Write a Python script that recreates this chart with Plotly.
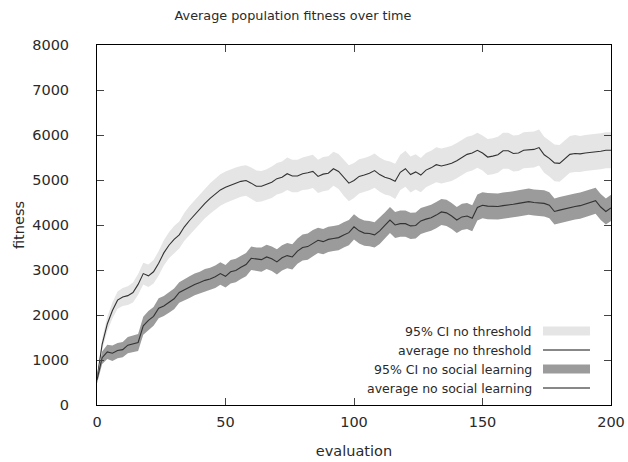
import plotly.graph_objects as go

evaluation = list(range(0, 201, 2))

avg_no_threshold = [
    580, 1350, 1800, 2100, 2330, 2400, 2430, 2500, 2680, 2920,
    2870, 2960, 3150, 3380, 3550, 3680, 3780, 3960, 4100, 4230,
    4360, 4480, 4590, 4690, 4780, 4840, 4890, 4930, 4970, 4990,
    4930, 4860, 4860, 4900, 4950, 5030, 5060, 5140, 5090, 5090,
    5140, 5160, 5190, 5080, 5130, 5150, 5250, 5190, 5050, 4930,
    4990, 5080, 5110, 5150, 5210, 5120, 5060, 5030, 4970, 5170,
    5250, 5120, 5180, 5110, 5220, 5270, 5340, 5310, 5340, 5370,
    5430, 5510, 5570, 5600, 5660, 5600, 5510, 5530, 5560, 5650,
    5650, 5590, 5600, 5660, 5670, 5680, 5720, 5560, 5480, 5380,
    5370, 5460, 5570, 5590, 5580, 5600, 5610, 5630, 5640, 5660,
    5660,
]

ci_no_threshold = [
    60, 130, 160, 180, 190, 200,
    210, 220, 230, 240, 250,
    260, 270, 280, 290, 300, 300, 310, 320, 320, 330,
    330, 340, 340, 350, 350, 350, 350, 340, 340, 350,
    350, 340, 340, 350, 350, 350, 360, 360, 360, 360,
    370, 370, 370, 380, 380, 380, 390, 400, 400, 390,
    380, 380, 380, 380, 380, 380, 380, 390, 390, 400,
    400, 390, 380, 380, 380, 390, 390, 390, 390, 390,
    390, 390, 390, 390, 390, 400, 400, 400, 400, 400,
    400, 400, 400, 400, 400, 400, 400, 400, 410, 410,
    410, 410, 410, 400, 400, 400, 400, 400, 400, 400,
]

avg_no_social = [
    560, 1050, 1180, 1150, 1210, 1230, 1330, 1360, 1390, 1760,
    1880, 1970, 2150, 2200, 2280, 2360, 2500, 2560, 2620, 2680,
    2720, 2770, 2800, 2850, 2920, 2860, 2960, 2990, 3060, 3120,
    3260, 3240, 3230, 3290, 3250, 3180, 3270, 3320, 3290, 3420,
    3500, 3520, 3600, 3660, 3630, 3680, 3700, 3720, 3780, 3830,
    3960, 3870, 3820, 3810, 3780, 3870, 3990, 4110, 4000, 4030,
    4030, 3980, 3990, 4090, 4130, 4160, 4220, 4290, 4270, 4200,
    4110, 4180, 4200, 4150, 4390, 4440, 4420, 4410, 4410, 4430,
    4440, 4460, 4480, 4500, 4520, 4500, 4490, 4480, 4440, 4300,
    4330, 4360, 4380, 4410, 4430, 4470, 4500, 4540, 4400, 4300,
    4380,
]

ci_no_social = [
    80, 140, 160, 170, 170, 170,
    180, 180, 190, 200, 210,
    210, 220, 220, 230, 230, 230, 240, 240, 240, 240,
    250, 250, 250, 250, 250, 260, 260, 260, 260, 260,
    260, 270, 270, 270, 280, 280, 280, 280, 280, 290,
    290, 290, 280, 280, 280, 280, 280, 280, 280, 280,
    280, 280, 280, 280, 290, 290, 290, 290, 290, 290,
    290, 290, 290, 290, 290, 290, 290, 290, 290, 290,
    290, 290, 290, 290, 290, 290, 290, 290, 290, 290,
    290, 290, 290, 290, 290, 290, 290, 290, 290, 290,
    290, 290, 290, 290, 290, 290, 290, 290, 290, 290,
]

legend_labels = ["95% CI no threshold", "average no threshold",
                 "95% CI no social learning", "average no social learning"]

x_ticks = [0, 50, 100, 150, 200]
y_ticks = [0, 1000, 2000, 3000, 4000, 5000, 6000, 7000, 8000]

LIGHT = "#e5e5e5"
DARK = "#9b9b9b"
LINE = "#333333"
TXT = "#2a2a2a"
FONT = "DejaVu Sans"

fig = go.Figure()


def add_band(mean, half, color):
    lo = [m - h for m, h in zip(mean, half)]
    hi = [m + h for m, h in zip(mean, half)]
    fig.add_trace(go.Scatter(x=evaluation, y=lo, mode="lines", line=dict(width=0, color=color),
                             showlegend=False, hoverinfo="skip"))
    fig.add_trace(go.Scatter(x=evaluation, y=hi, mode="lines", line=dict(width=0, color=color),
                             fill="tonexty", fillcolor=color, showlegend=False, hoverinfo="skip"))


add_band(avg_no_threshold, ci_no_threshold, LIGHT)
fig.add_trace(go.Scatter(x=evaluation, y=avg_no_threshold, mode="lines",
                         line=dict(color=LINE, width=1.1), showlegend=False))
add_band(avg_no_social, ci_no_social, DARK)
fig.add_trace(go.Scatter(x=evaluation, y=avg_no_social, mode="lines",
                         line=dict(color=LINE, width=1.1), showlegend=False))

# gnuplot-style key (text right-aligned, sample on the right)
L, R, T, B = 97, 611, 45, 405
W, H = R - L, B - T


def px(xp):
    return (xp - L) / W


def py(yp):
    return (B - yp) / H


rows_y = [331, 350, 369, 388]
for i, (lab, yy) in enumerate(zip(legend_labels, rows_y)):
    fig.add_annotation(x=px(534), y=py(yy), xref="paper", yref="paper", text=lab,
                       showarrow=False, xanchor="right", yanchor="middle",
                       font=dict(family=FONT, size=12.5, color=TXT))
    if i % 2 == 0:
        fig.add_shape(type="rect", xref="paper", yref="paper",
                      x0=px(543), x1=px(590), y0=py(yy - 4.5), y1=py(yy + 4.5),
                      fillcolor=LIGHT if i == 0 else DARK, line=dict(width=0))
    else:
        fig.add_shape(type="line", xref="paper", yref="paper",
                      x0=px(543), x1=px(590), y0=py(yy), y1=py(yy),
                      line=dict(color="#111", width=1))

axis_common = dict(showgrid=False, zeroline=False, showline=True, linecolor="#000", linewidth=1,
                   mirror="ticks", ticks="inside", ticklen=7, tickcolor="#444", tickwidth=1,
                   automargin=False,
                   tickfont=dict(family=FONT, size=14.5, color=TXT))

fig.update_layout(
    width=628, height=462,
    margin=dict(l=L, r=628 - R, t=T, b=462 - B, autoexpand=False),
    paper_bgcolor="white", plot_bgcolor="white",
    title=dict(text="Average population fitness over time", x=293 / 628, xref="container",
               xanchor="center", y=1 - 16 / 462, yref="container", yanchor="middle",
               font=dict(family=FONT, size=12.8, color=TXT)),
    xaxis=dict(range=[0, 200], tickvals=x_ticks, ticktext=[str(v) for v in x_ticks],
               title=dict(text="evaluation", font=dict(family=FONT, size=14.5, color=TXT), standoff=16),
               ticklabelstandoff=4, **axis_common),
    yaxis=dict(range=[0, 8000], tickvals=y_ticks, ticktext=[str(v) for v in y_ticks],
               title=dict(text="fitness", font=dict(family=FONT, size=14.5, color=TXT), standoff=4),
               ticklabelstandoff=24, **axis_common),
    showlegend=False,
)

fig.write_html("out.html", config={"displayModeBar": False},
               post_script="document.body.style.margin='0';")
